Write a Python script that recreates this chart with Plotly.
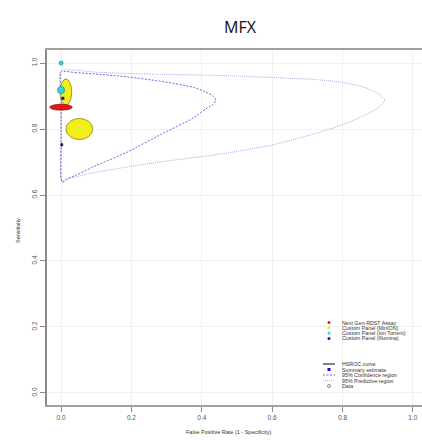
import plotly.graph_objects as go

# ---------------- data ----------------
# 95% confidence region (fpr, sensitivity)
conf_fpr = [0.0, 0.040, 0.091, 0.188, 0.281, 0.375, 0.410, 0.432, 0.440, 0.432, 0.410,
            0.375, 0.281, 0.188, 0.091, 0.045, 0.015, 0.003, 0.0, 0.0, 0.0, 0.0]
conf_sens = [0.973, 0.971, 0.967, 0.958, 0.945, 0.927, 0.913, 0.900, 0.888, 0.875, 0.860,
             0.833, 0.782, 0.730, 0.685, 0.661, 0.648, 0.640, 0.65, 0.78, 0.90, 0.973]

# 95% predictive region
pred_fpr = [0.0, 0.100, 0.224, 0.452, 0.602, 0.720, 0.793, 0.860, 0.900, 0.920, 0.900,
            0.860, 0.793, 0.702, 0.602, 0.452, 0.281, 0.188, 0.091, 0.020, 0.003,
            0.0, 0.0, 0.0, 0.0]
pred_sens = [0.976, 0.972, 0.967, 0.962, 0.956, 0.950, 0.942, 0.927, 0.908, 0.888, 0.863,
             0.840, 0.810, 0.780, 0.752, 0.724, 0.700, 0.685, 0.667, 0.648, 0.638,
             0.65, 0.78, 0.90, 0.976]

# study data (ellipses): centre and half-extent in data units
study_group = ["Custom Panel (MinION)", "Custom Panel (Ion Torrent)", "Custom Panel (Ion Torrent)",
               "Next Gen-RDST Assay", "Custom Panel (MinION)", "Custom Panel (Illumina)"]
study_fpr = [0.0137, 0.0, 0.0, 0.0, 0.052, 0.002]
study_sens = [0.912, 1.0, 0.918, 0.866, 0.800, 0.752]
study_halfw = [0.0165, 0.0057, 0.0100, 0.032, 0.038, 0.003]
study_halfh = [0.0394, 0.006, 0.011, 0.0088, 0.032, 0.0045]

summary_fpr = [0.005]
summary_sens = [0.893]

x_ticks = [0.0, 0.2, 0.4, 0.6, 0.8, 1.0]
x_ticklabels = ["0.0", "0.2", "0.4", "0.6", "0.8", "1.0"]
y_ticks = [0.0, 0.2, 0.4, 0.6, 0.8, 1.0]
y_ticklabels = ["0.0", "0.2", "0.4", "0.6", "0.8", "1.0"]

group_names = ["Next Gen-RDST Assay", "Custom Panel (MinION)",
               "Custom Panel (Ion Torrent)", "Custom Panel (Illumina)"]
group_fill = {"Next Gen-RDST Assay": "#e8141c", "Custom Panel (MinION)": "#f2ee1a",
              "Custom Panel (Ion Torrent)": "#2ad6e0", "Custom Panel (Illumina)": "#1a1aa0"}
group_line = {"Next Gen-RDST Assay": "#9a1010", "Custom Panel (MinION)": "#8a8420",
              "Custom Panel (Ion Torrent)": "#209aa0", "Custom Panel (Illumina)": "#10105a"}

# ---------------- figure ----------------
W, H = 422, 440
FONT = "Liberation Sans"
CONF_COL = "#5a5ad0"
PRED_COL = "#a4a4e4"
LEG_FONT = dict(family=FONT, size=5.3, color="#333")
fig = go.Figure()

fig.add_trace(go.Scatter(x=pred_fpr, y=pred_sens, mode="lines",
                         line=dict(color=PRED_COL, width=0.9, dash="1px,1px",
                                   shape="spline", smoothing=0.6),
                         hoverinfo="skip", showlegend=False))
fig.add_trace(go.Scatter(x=conf_fpr, y=conf_sens, mode="lines",
                         line=dict(color=CONF_COL, width=0.9, dash="2px,1.5px",
                                   shape="spline", smoothing=0.6),
                         hoverinfo="skip", showlegend=False))

shapes = []
for g, cx, cy, hw, hh in zip(study_group, study_fpr, study_sens, study_halfw, study_halfh):
    shapes.append(dict(type="circle", xref="x", yref="y",
                       x0=cx - hw, x1=cx + hw, y0=cy - hh, y1=cy + hh,
                       fillcolor=group_fill[g], line=dict(color=group_line[g], width=0.8),
                       layer="above"))
for sx, sy in zip(summary_fpr, summary_sens):
    shapes.append(dict(type="rect", xref="x", yref="y", xsizemode="pixel", ysizemode="pixel",
                       xanchor=sx, yanchor=sy, x0=-1.5, x1=1.5, y0=-1.5, y1=1.5,
                       fillcolor="#1010d0", line=dict(width=0), layer="above"))

# ---------------- legend (drawn on a pixel overlay) ----------------
leg1_y = [322.5, 327.8, 333.1, 338.4]
for name, yy in zip(group_names, leg1_y):
    fig.add_trace(go.Scatter(x=[329], y=[yy], mode="markers", xaxis="x2", yaxis="y2",
                             marker=dict(size=3, color=group_fill[name]),
                             hoverinfo="skip", showlegend=False))
annotations = []
for name, yy in zip(group_names, leg1_y):
    annotations.append(dict(x=340, y=yy, xref="x2", yref="y2", text=name, showarrow=False,
                            xanchor="left", yanchor="middle", font=LEG_FONT))

leg2_labels = ["HSROC curve", "Summary estimate", "95% Confidence region",
               "95% Predictive region", "Data"]
leg2_y = [364, 369.5, 375, 380.5, 386]
fig.add_trace(go.Scatter(x=[323, 335], y=[leg2_y[0]] * 2, mode="lines", xaxis="x2", yaxis="y2",
                         line=dict(color="#333", width=1.2), hoverinfo="skip", showlegend=False))
fig.add_trace(go.Scatter(x=[329], y=[leg2_y[1]], mode="markers", xaxis="x2", yaxis="y2",
                         marker=dict(symbol="square", size=3, color="#1010d0"),
                         hoverinfo="skip", showlegend=False))
fig.add_trace(go.Scatter(x=[323, 335], y=[leg2_y[2]] * 2, mode="lines", xaxis="x2", yaxis="y2",
                         line=dict(color=CONF_COL, width=0.9, dash="2px,1.5px"),
                         hoverinfo="skip", showlegend=False))
fig.add_trace(go.Scatter(x=[323, 335], y=[leg2_y[3]] * 2, mode="lines", xaxis="x2", yaxis="y2",
                         line=dict(color=PRED_COL, width=0.9, dash="1px,1px"),
                         hoverinfo="skip", showlegend=False))
fig.add_trace(go.Scatter(x=[329], y=[leg2_y[4]], mode="markers", xaxis="x2", yaxis="y2",
                         marker=dict(symbol="circle-open", size=3, color="#555",
                                     line=dict(width=0.7)),
                         hoverinfo="skip", showlegend=False))
for lab, yy in zip(leg2_labels, leg2_y):
    annotations.append(dict(x=340, y=yy, xref="x2", yref="y2", text=lab, showarrow=False,
                            xanchor="left", yanchor="middle", font=LEG_FONT))

# titles
annotations.append(dict(x=240 / W, y=1 - 27 / H, xref="paper", yref="paper", text="MFX",
                        showarrow=False, xanchor="center", yanchor="middle",
                        font=dict(family="Open Sans", size=16, color="#111")))
annotations.append(dict(x=228 / W, y=1 - 432 / H, xref="paper", yref="paper",
                        text="False Positive Rate (1 - Specificity)", showarrow=False,
                        xanchor="center", yanchor="middle",
                        font=dict(family=FONT, size=5.5, color="#333")))
annotations.append(dict(x=18 / W, y=1 - 231 / H, xref="paper", yref="paper",
                        text="Sensitivity", showarrow=False, textangle=-90,
                        xanchor="center", yanchor="middle",
                        font=dict(family=FONT, size=5.5, color="#333")))

axis_font = dict(family=FONT, size=6.5, color="#555")
fig.update_layout(
    width=W, height=H, margin=dict(l=0, r=0, t=0, b=0),
    paper_bgcolor="white", plot_bgcolor="rgba(0,0,0,0)",
    showlegend=False,
    xaxis=dict(domain=[47 / W, 1], range=[-0.04, 1.026], tickvals=x_ticks, ticktext=x_ticklabels,
               ticks="outside", ticklen=5, tickcolor="#888", tickwidth=1,
               showline=True, linecolor="#a0a0a0", linewidth=1.5, mirror=True,
               showgrid=True, gridcolor="#f0f0f0", gridwidth=1, zeroline=False,
               tickfont=axis_font, anchor="y"),
    yaxis=dict(domain=[35 / H, 390 / H], range=[-0.0364, 1.0394], tickvals=y_ticks,
               ticktext=y_ticklabels, tickangle=-90,
               ticks="outside", ticklen=5, tickcolor="#888", tickwidth=1,
               showline=True, linecolor="#8a8a8a", linewidth=2, mirror=False,
               showgrid=True, gridcolor="#f0f0f0", gridwidth=1, zeroline=False,
               tickfont=axis_font, anchor="x"),
    xaxis2=dict(domain=[0, 1], range=[0, W], visible=False, anchor="y2", fixedrange=True),
    yaxis2=dict(domain=[0, 1], range=[H, 0], visible=False, anchor="x2", fixedrange=True),
    shapes=shapes,
    annotations=annotations,
)

fig.write_html("out.html")
